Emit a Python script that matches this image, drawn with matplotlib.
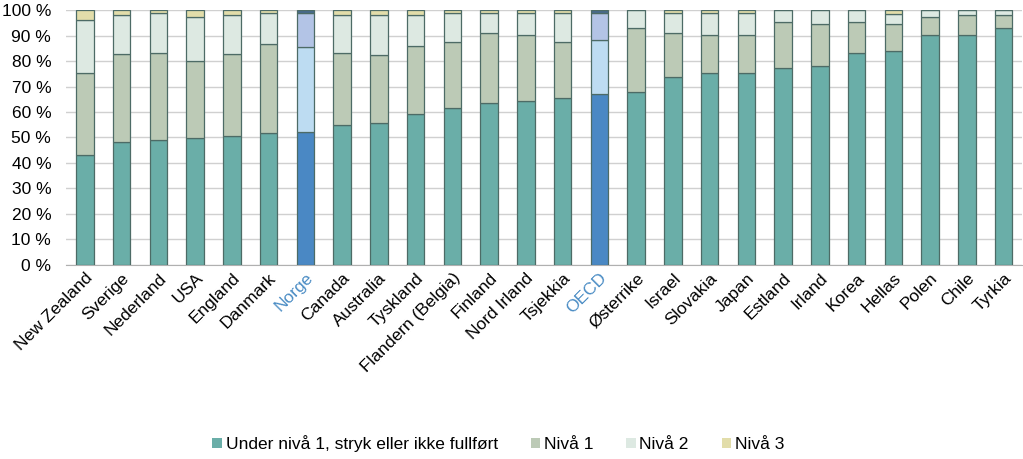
import matplotlib
matplotlib.use("Agg")
import matplotlib.pyplot as plt
from matplotlib.patches import Patch
import numpy as np

plt.rcParams['font.family'] = ['Liberation Sans', 'DejaVu Sans']

countries = ["New Zealand", "Sverige", "Nederland", "USA", "England", "Danmark",
             "Norge", "Canada", "Australia", "Tyskland", "Flandern (Belgia)",
             "Finland", "Nord Irland", "Tsjekkia", "OECD", "Østerrike", "Israel",
             "Slovakia", "Japan", "Estland", "Irland", "Korea", "Hellas", "Polen",
             "Chile", "Tyrkia"]

# cumulative tops (percent)
top_under = [43.0, 48.2, 48.9, 49.8, 50.7, 51.6, 52.2, 55.0, 55.8, 59.3, 61.7,
             63.6, 64.5, 65.4, 66.9, 68.0, 73.8, 75.5, 75.5, 77.3, 78.1, 83.2,
             84.1, 90.2, 90.2, 92.8]
top_n1 = [75.5, 82.6, 83.2, 79.9, 82.6, 86.7, 85.6, 83.2, 82.5, 85.8, 87.6,
          91.0, 90.2, 87.6, 88.4, 92.8, 91.0, 90.2, 90.2, 95.4, 94.5, 95.4,
          94.5, 97.1, 98.0, 98.0]
top_n2 = [96.2, 98.0, 98.8, 97.1, 98.0, 98.8, 98.8, 98.0, 98.0, 98.0, 98.8,
          99.0, 98.8, 98.8, 98.8, 100.0, 99.0, 98.8, 98.8, 100.0, 100.0, 100.0,
          98.4, 100.0, 100.0, 100.0]
top_n3 = [100.0] * len(countries)

highlight = ["Norge", "OECD"]

under = np.array(top_under)
n1 = np.array(top_n1) - under
n2 = np.array(top_n2) - np.array(top_n1)
n3 = np.array(top_n3) - np.array(top_n2)

cols = ["#6aaea8", "#bccab6", "#dde9e2", "#e2ddaa"]
cols_hl = ["#4a88c4", "#bddcf2", "#b3c4e6", "#486a8c"]
edge = "#4d6b66"

fig, ax = plt.subplots(figsize=(10.23, 4.59), dpi=100)
fig.subplots_adjust(left=0.065, right=0.999, bottom=0.423, top=0.978)

x = np.arange(len(countries))
bottoms = np.zeros(len(countries))
for k, seg in enumerate([under, n1, n2, n3]):
    fc = [cols_hl[k] if c in highlight else cols[k] for c in countries]
    ax.bar(x, seg, bottom=bottoms, width=0.48, color=fc, edgecolor=edge,
           linewidth=0.9, zorder=3)
    bottoms += seg

ax.set_ylim(0, 100)
ax.set_xlim(-0.5, len(countries) - 0.5)
ax.set_yticks(range(0, 101, 10))
ax.set_yticklabels([f"{v} %" for v in range(0, 101, 10)], fontsize=12.5)
ax.grid(axis="y", color="#d0d0d0", linewidth=1, zorder=0)
for s in ["top", "right", "left"]:
    ax.spines[s].set_visible(False)
ax.spines["bottom"].set_color("#b0b0b0")
ax.tick_params(axis="y", length=0, pad=11)
ax.tick_params(axis="x", length=0, pad=4)

ax.set_xticks(x)
ax.set_xticklabels(countries, rotation=45, ha="right", rotation_mode="anchor",
                   fontsize=12.5)
for lbl in ax.get_xticklabels():
    if lbl.get_text() in highlight:
        lbl.set_color("#4a8cc4")

names = ["Under nivå 1, stryk eller ikke fullført", "Nivå 1", "Nivå 2", "Nivå 3"]
handles = [Patch(facecolor=c, edgecolor="none") for c in cols]
fig.legend(handles, names, loc="center", bbox_to_anchor=(0.487, 0.033), ncol=4,
           frameon=False, fontsize=12.5, handlelength=0.55, handleheight=0.55,
           handletextpad=0.2, columnspacing=1.9)

fig.savefig("out.png", dpi=100)
